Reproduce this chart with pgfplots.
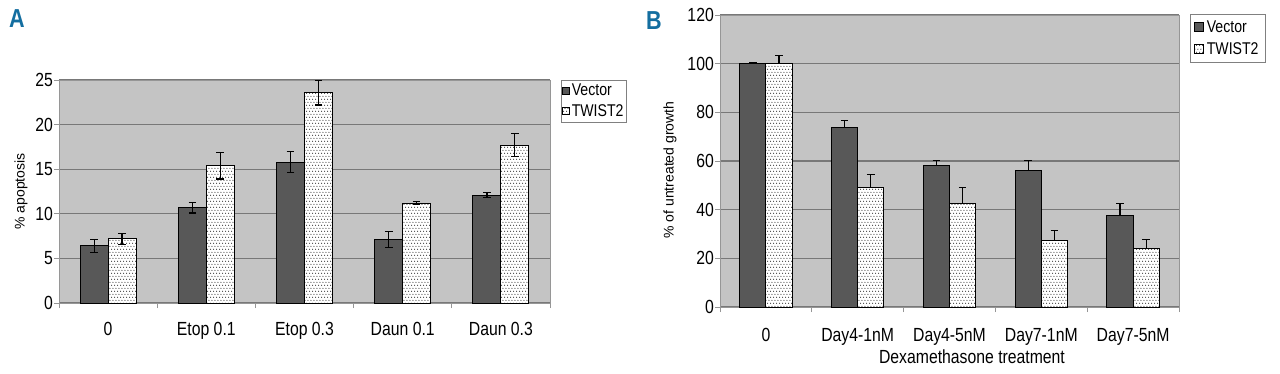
\documentclass[border=0pt]{standalone}
\usepackage{fontspec}
\setmainfont{Liberation Sans}[FakeStretch=0.83]
\newfontfamily\regfont{Liberation Sans}
\usepackage{pgfplots}
\usepackage{pgfplotstable}
\pgfplotsset{compat=1.18}
\usetikzlibrary{patterns}

\pgfdeclarepatternformonly{mydots}{\pgfqpoint{0pt}{0pt}}{\pgfqpoint{3.2pt}{6.4pt}}{\pgfqpoint{3.2pt}{6.4pt}}{%
  \pgfpathcircle{\pgfqpoint{0.8pt}{0.8pt}}{0.62pt}%
  \pgfpathcircle{\pgfqpoint{2.4pt}{4.0pt}}{0.62pt}%
  \pgfusepath{fill}}

\definecolor{bgc}{RGB}{196,196,196}
\definecolor{gridc}{RGB}{120,120,120}
\definecolor{vecc}{RGB}{88,88,88}
\definecolor{panelc}{RGB}{20,110,160}
\definecolor{axc}{RGB}{150,150,150}

\pgfplotstableread{
x vec vecerr tw twerr
0 6.4 0.7 7.2 0.6
1 10.7 0.6 15.4 1.5
2 15.8 1.2 23.6 1.4
3 7.1 0.9 11.2 0.15
4 12.1 0.25 17.7 1.3
}\dataA

\pgfplotstableread{
x vec vecerr tw twerr
0 100.1 0.4 100.1 3.4
1 73.8 3.0 49.0 5.6
2 58.0 2.1 42.5 6.5
3 56.2 3.9 27.2 4.2
4 37.7 4.8 24.0 3.6
}\dataB

\pgfplotsset{
  excel/.style={
    scale only axis,
    axis background/.style={fill=bgc},
    xmin=-0.5, xmax=4.5, ymin=0,
    enlargelimits=false,
    xtick={0,...,4},
    xtick pos=bottom, ytick pos=left,
    tick align=outside,
    major tick length=5pt,
    xtick style={draw=none},
    ytick style={draw=axc, line width=0.8pt},
    extra x ticks={-0.5,0.5,1.5,2.5,3.5,4.5},
    extra x tick labels={},
    extra x tick style={xtick style={draw=axc, line width=0.8pt}},
    axis line style={draw=axc, line width=0.8pt},
    ymajorgrids,
    grid style={draw=gridc, line width=1.3pt},
    /pgf/number format/assume math mode=true,
    tick label style={font=\fontsize{19}{19}\selectfont},
    yticklabel style={anchor=east, inner sep=0pt, xshift=-1pt},
    xticklabel style={anchor=north, inner sep=0pt, text height=13.5pt, text depth=4pt},
    legend cell align=left,
    legend style={draw=gray, fill=white, font=\fontsize{17}{17}\selectfont,
      inner xsep=1pt, inner ysep=3pt, row sep=5pt,
      nodes={inner xsep=2pt, inner ysep=1pt}},
    legend image code/.code={\draw[#1, line width=0.6pt] (0pt,-3.5pt) rectangle (7pt,3.5pt);},
  },
  vecbar/.style={ybar, bar width=0.285, bar shift=0pt, fill=vecc, draw=black, line width=0.9pt,
    error bars/.cd, y explicit, y dir=#1,
    error bar style={line width=1.2pt, black},
    error mark options={rotate=90, mark size=3.8pt, line width=1.2pt, black}},
  twbar/.style={ybar, bar width=0.285, bar shift=0pt, fill=white, draw=black, line width=0.9pt,
    postaction={pattern=mydots, pattern color=black},
    error bars/.cd, y explicit, y dir=#1,
    error bar style={line width=1.2pt, black},
    error mark options={rotate=90, mark size=3.8pt, line width=1.2pt, black}},
}

\begin{document}
\begin{tikzpicture}[x=1pt,y=1pt]
\path[use as bounding box] (0,0) rectangle (1280,373);

\node[font=\fontsize{26}{26}\selectfont\bfseries, text=panelc] at (17,354) {A};
\node[font=\fontsize{26}{26}\selectfont\bfseries, text=panelc] at (654,352) {B};

% Panel A
\begin{axis}[excel,
  at={(59pt,70pt)}, anchor=south west,
  width=491pt, height=223pt,
  ymax=25, ytick={0,5,...,25},
  xticklabels={0, Etop 0.1, Etop 0.3, Daun 0.1, Daun 0.3},
  xticklabel style={yshift=-14pt},
  ylabel={\% apoptosis},
  ylabel style={font=\regfont\fontsize{14}{14}\selectfont, at={(axis description cs:-0.0774,0.5)}, anchor=center},
  legend style={at={(1.0224,1)}, anchor=north west},
]
\addplot[vecbar=both] table[x expr=\thisrow{x}-0.1425, y=vec, y error=vecerr]{\dataA};
\addlegendentry{Vector}
\addplot[twbar=both] table[x expr=\thisrow{x}+0.1425, y=tw, y error=twerr]{\dataA};
\addlegendentry{TWIST2}
\end{axis}

% Panel B
\begin{axis}[excel,
  at={(720pt,66pt)}, anchor=south west,
  width=459pt, height=292pt,
  ymax=120, ytick={0,20,...,120},
  xticklabels={0, Day4-1nM, Day4-5nM, Day7-1nM, Day7-5nM},
  xticklabel style={yshift=-16pt},
  ylabel={\% of untreated growth},
  ylabel style={font=\regfont\fontsize{14}{14}\selectfont, at={(axis description cs:-0.109,0.469)}, anchor=center},
  xlabel={Dexamethasone treatment},
  xlabel style={font=\fontsize{19}{19}\selectfont, at={(axis description cs:0.549,-0.171)}, anchor=center},
  legend style={at={(1.024,1.003)}, anchor=north west, inner xsep=4pt, inner ysep=5pt, row sep=7pt,
    nodes={inner xsep=3pt, inner ysep=1pt}},
  legend image code/.code={\draw[#1, line width=0.6pt] (0pt,-4.5pt) rectangle (9pt,4.5pt);},
]
\addplot[vecbar=plus] table[x expr=\thisrow{x}-0.1425, y=vec, y error=vecerr]{\dataB};
\addlegendentry{Vector}
\addplot[twbar=plus] table[x expr=\thisrow{x}+0.1425, y=tw, y error=twerr]{\dataB};
\addlegendentry{TWIST2}
\end{axis}
\end{tikzpicture}
\end{document}
